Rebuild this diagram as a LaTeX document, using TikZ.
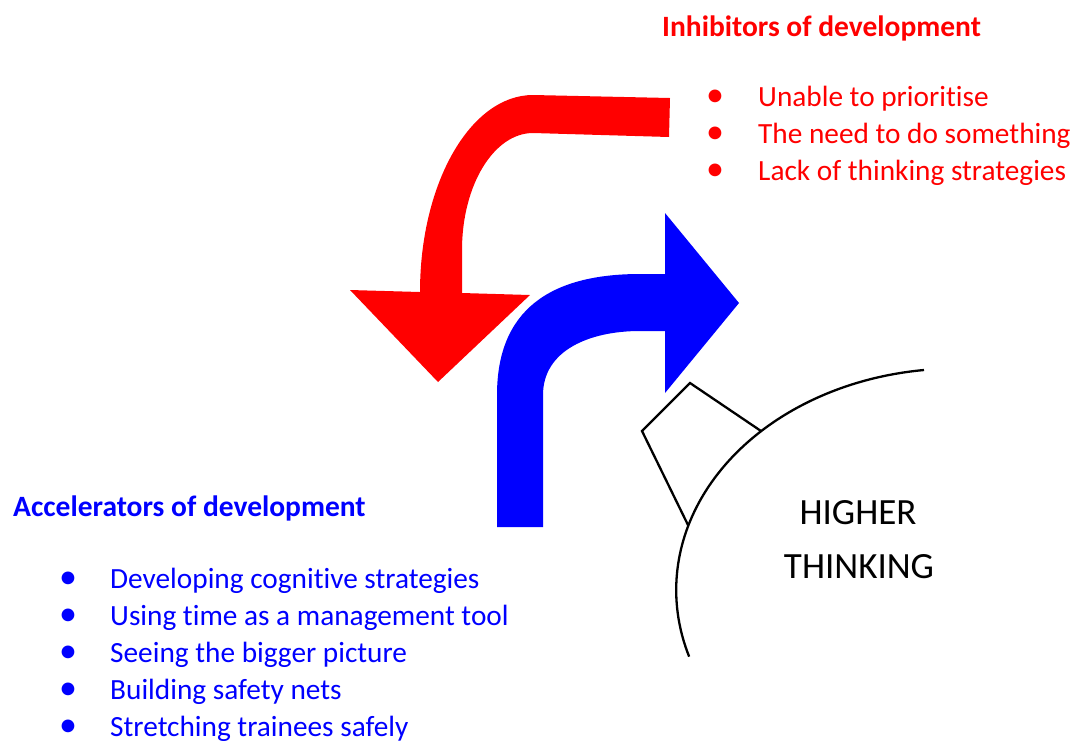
\documentclass[tikz,border=0pt]{standalone}
\usepackage{fontspec}
\setmainfont{Carlito}[Ligatures=NoCommon]
\begin{document}
\begin{tikzpicture}[x=1pt,y=-1pt,
  head/.style={anchor=base west,inner sep=0pt,font=\fontsize{29.5}{34}\selectfont\bfseries},
  item/.style={anchor=base west,inner sep=0pt,font=\fontsize{29.3}{36}\selectfont},
  dot/.style={anchor=base,inner sep=0pt,font=\fontsize{36}{36}\selectfont},
  big/.style={anchor=base,inner sep=0pt,font=\fontsize{37}{44}\selectfont}]
\useasboundingbox (0,0) rectangle (1078,740);
% red arrow
\path[fill=red] (670,98) -- (533,95) .. controls (470.6,95) and (420,183) .. (420,292)
  -- (350,290) -- (438,382) -- (530,295) -- (462,293) -- (462,250)
  .. controls (462,185) and (494,133) .. (533,133) -- (669,137) -- cycle;
% blue arrow
\path[fill=blue] (497,527) -- (497,395) .. controls (497,310) and (550,274) .. (640,274)
  -- (665,274) -- (665,213) -- (739,303) -- (665,393) -- (665,331) -- (640,331)
  .. controls (590,331) and (543,350) .. (543,395) -- (543,527) -- cycle;
% higher thinking
\path[draw,line width=2.3pt] (924,370) arc[start angle=-96.6, end angle=-197.5, x radius=280, y radius=221.5];
\path[draw,line width=2.3pt,line join=miter] (761,431) -- (690,383) -- (642,431) -- (688,525);
\node[big] (h1) at (858,524) {HIGHER};
\node[big] (h2) at (859,578) {THINKING};
% inhibitors
\node[head,text=red] (inhib) at (662,36) {Inhibitors of development};
\node[dot,text=red] (d1) at (715,106) {\textbullet};
\node[dot,text=red] (d2) at (715,143) {\textbullet};
\node[dot,text=red] (d3) at (715,180) {\textbullet};
\node[item,text=red] (i1) at (758,106) {Unable to prioritise};
\node[item,text=red] (i2) at (758,143) {The need to do something};
\node[item,text=red] (i3) at (758,180) {Lack of thinking strategies};
% accelerators
\node[head,text=blue] (accel) at (13,516) {Accelerators of development};
\node[dot,text=blue] (e1) at (68,588) {\textbullet};
\node[dot,text=blue] (e2) at (68,625) {\textbullet};
\node[dot,text=blue] (e3) at (68,662) {\textbullet};
\node[dot,text=blue] (e4) at (68,699) {\textbullet};
\node[dot,text=blue] (e5) at (68,736) {\textbullet};
\node[item,text=blue] (a1) at (110,588) {Developing cognitive strategies};
\node[item,text=blue] (a2) at (110,625) {Using time as a management tool};
\node[item,text=blue] (a3) at (110,662) {Seeing the bigger picture};
\node[item,text=blue] (a4) at (110,699) {Building safety nets};
\node[item,text=blue] (a5) at (110,736) {Stretching trainees safely};
\end{tikzpicture}
\end{document}
